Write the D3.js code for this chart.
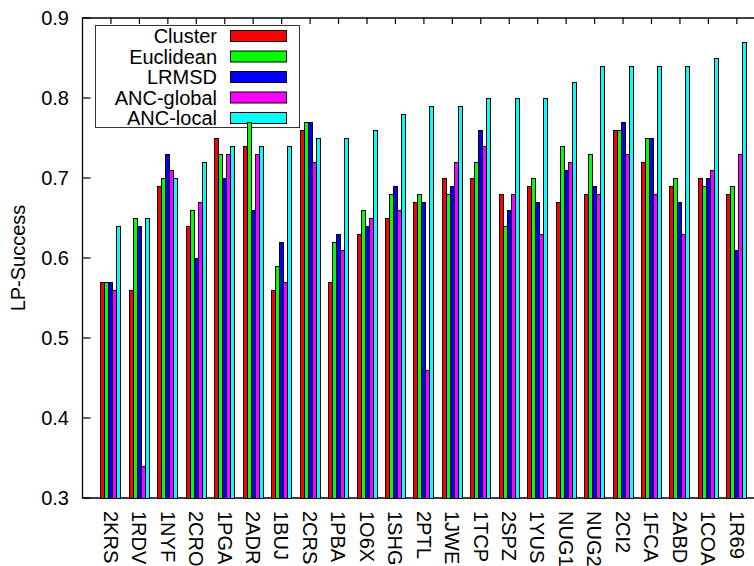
<!DOCTYPE html>
<html>
<head>
<meta charset="utf-8">
<script src="https://cdn.jsdelivr.net/npm/d3@7"></script>
<style>
  body { margin: 0; background: #fff; }
  text { font-family: "Liberation Sans", Arial, sans-serif; fill: #000; }
</style>
</head>
<body>
<div id="chart"></div>
<script>
// Proteins on the x axis
const categories = ["2KRS", "1RDV", "1NYF", "2CRO", "1PGA", "2ADR", "1BUJ", "2CRS", "1PBA", "1O6X",
  "1SHG", "2PTL", "1JWE", "1TCP", "2SPZ", "1YUS", "NUG1", "NUG2", "2CI2", "1FCA", "2ABD", "1COA", "1R69"];

const seriesNames = ["Cluster", "Euclidean", "LRMSD", "ANC-global", "ANC-local"];
const seriesColors = ["#ff0000", "#00ff00", "#0000ff", "#ff00ff", "#00ffff"];

// LP-Success values per method
const cluster   = [0.57, 0.56, 0.69, 0.64, 0.75, 0.74, 0.56, 0.76, 0.57, 0.63, 0.65, 0.67, 0.70, 0.70, 0.68, 0.69, 0.67, 0.68, 0.76, 0.72, 0.69, 0.70, 0.68];
const euclidean = [0.57, 0.65, 0.70, 0.66, 0.73, 0.77, 0.59, 0.77, 0.62, 0.66, 0.68, 0.68, 0.68, 0.72, 0.64, 0.70, 0.74, 0.73, 0.76, 0.75, 0.70, 0.69, 0.69];
const lrmsd     = [0.57, 0.64, 0.73, 0.60, 0.70, 0.66, 0.62, 0.77, 0.63, 0.64, 0.69, 0.67, 0.69, 0.76, 0.66, 0.67, 0.71, 0.69, 0.77, 0.75, 0.67, 0.70, 0.61];
const ancGlobal = [0.56, 0.34, 0.71, 0.67, 0.73, 0.73, 0.57, 0.72, 0.61, 0.65, 0.66, 0.46, 0.72, 0.74, 0.68, 0.63, 0.72, 0.68, 0.73, 0.68, 0.63, 0.71, 0.73];
const ancLocal  = [0.64, 0.65, 0.70, 0.72, 0.74, 0.74, 0.74, 0.75, 0.75, 0.76, 0.78, 0.79, 0.79, 0.80, 0.80, 0.80, 0.82, 0.84, 0.84, 0.84, 0.84, 0.85, 0.87];

const yTicks = [0.3, 0.4, 0.5, 0.6, 0.7, 0.8, 0.9];

const seriesValues = [cluster, euclidean, lrmsd, ancGlobal, ancLocal];

const W = 754, H = 566;
const plotLeft = 82.5, plotTop = 18, plotBottom = 498;

const svg = d3.select("#chart").append("svg")
  .attr("width", W).attr("height", H);

// Scales: category index -> x centre, value -> y
const x = d3.scaleLinear().domain([-1, 23]).range([plotLeft, plotLeft + 24 * 28.45]);
const y = d3.scaleLinear().domain([0.3, 0.9]).range([plotBottom, plotTop]);
const sub = d3.scaleBand().domain(d3.range(seriesNames.length)).range([-10, 10]).padding(0);

// Frame: left, bottom, top (right side falls off the picture)
svg.append("path")
  .attr("d", `M${W},${plotTop}H${plotLeft}V${plotBottom}H${W}`)
  .attr("fill", "none").attr("stroke", "#000").attr("stroke-width", 1.3);

// Y ticks (inward) and labels
svg.append("g").selectAll("line").data(yTicks).enter().append("line")
  .attr("x1", plotLeft).attr("x2", plotLeft + 8)
  .attr("y1", d => y(d)).attr("y2", d => y(d))
  .attr("stroke", "#000").attr("stroke-width", 1.2);
svg.append("g").selectAll("text").data(yTicks).enter().append("text")
  .attr("x", 69).attr("y", d => y(d)).attr("dy", "0.36em")
  .attr("text-anchor", "end").style("font-size", "20px")
  .text(d => d.toFixed(1));

// Top ticks (mirrored x ticks)
svg.append("g").selectAll("line").data(categories).enter().append("line")
  .attr("x1", (d, i) => x(i)).attr("x2", (d, i) => x(i))
  .attr("y1", plotTop).attr("y2", plotTop + 6)
  .attr("stroke", "#000").attr("stroke-width", 1.2);

// X labels, rotated
svg.append("g").selectAll("text").data(categories).enter().append("text")
  .attr("transform", (d, i) => `translate(${x(i)},511) rotate(90)`)
  .attr("dy", "0.36em").style("font-size", "20px")
  .text(d => d);

// Y axis title
svg.append("text")
  .attr("transform", `translate(18,${(plotTop + plotBottom) / 2}) rotate(-90)`)
  .attr("text-anchor", "middle").attr("dy", "0.36em")
  .style("font-size", "20px")
  .text("LP-Success");

// Legend (drawn before bars, no fill)
const legend = svg.append("g");
legend.append("rect")
  .attr("x", 95.5).attr("y", 25.5).attr("width", 204).attr("height", 102)
  .attr("fill", "none").attr("stroke", "#333").attr("stroke-width", 1);
seriesNames.forEach((name, k) => {
  const cy = 36 + k * 20.5;
  legend.append("text")
    .attr("x", 217).attr("y", cy).attr("dy", "0.36em")
    .attr("text-anchor", "end").style("font-size", "20px")
    .text(name);
  legend.append("rect")
    .attr("x", 230.5).attr("y", cy - 5.5).attr("width", 56).attr("height", 11)
    .attr("fill", seriesColors[k]).attr("stroke", "#000").attr("stroke-width", 1);
});

// Bars
seriesValues.forEach((vals, k) => {
  svg.append("g").selectAll("rect").data(vals).enter().append("rect")
    .attr("x", (d, i) => x(i) + sub(k))
    .attr("width", sub.bandwidth())
    .attr("y", d => y(d))
    .attr("height", d => plotBottom - y(d))
    .attr("fill", seriesColors[k])
    .attr("stroke", "#000").attr("stroke-width", 1)
    .attr("shape-rendering", "crispEdges");
});
</script>
</body>
</html>
